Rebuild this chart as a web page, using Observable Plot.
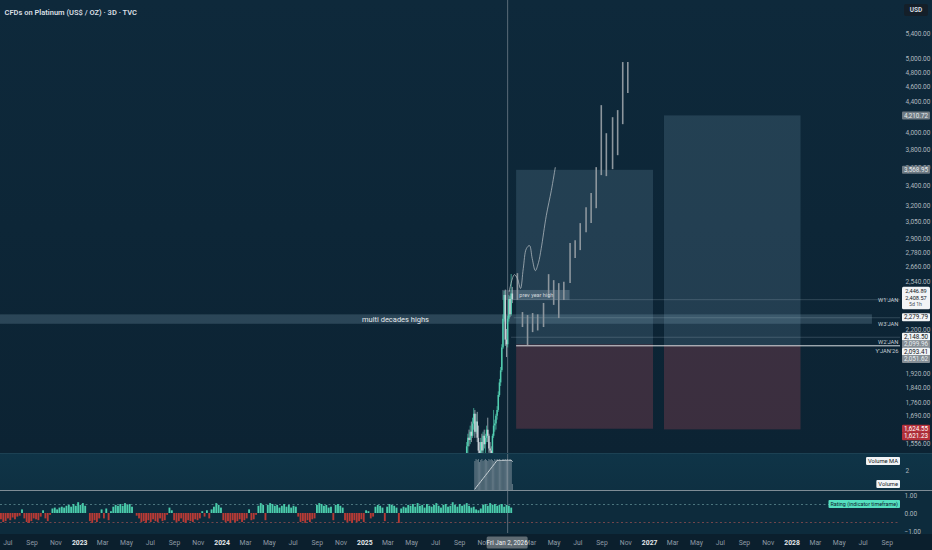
<!DOCTYPE html>
<html><head><meta charset="utf-8">
<script src="https://cdn.jsdelivr.net/npm/d3@7"></script>
<script src="https://cdn.jsdelivr.net/npm/@observablehq/plot@0.6"></script>
<style>
html,body{margin:0;padding:0;background:#0b1f2d;}
#wrap{position:relative;width:932px;height:550px;overflow:hidden;}
.pane{position:absolute;left:0;width:932px;}
#main{top:0;height:453px;background:linear-gradient(180deg,#0e293b 0%,#0c2333 100%);z-index:1;}
#vol{top:453px;height:37px;background:linear-gradient(180deg,#0f3447 0%,#0e3042 100%);border-top:1px solid #1c4153;box-sizing:border-box;z-index:2;}
#rat{top:490px;height:44px;background:#0d2b3c;border-top:1.5px solid #7f8d96;box-sizing:border-box;z-index:4;}
#xax{top:534px;height:16px;background:#0b1f2d;z-index:3;}
svg{overflow:visible;}
</style></head><body>
<div id="wrap"><div id="main" class="pane"></div><div id="vol" class="pane"></div><div id="rat" class="pane"></div><div id="xax" class="pane"></div></div>
<script>
// ---------- DATA ----------
const title = "CFDs on Platinum (US$ / OZ) · 3D · TVC";
const xDomain = ["2022-06-12", "2028-10-05"];
const priceDomain = [1509, 5980];
const priceTicks = [5400, 5000, 4800, 4600, 4400, 4000, 3800, 3600, 3400, 3200, 3050, 2900, 2780, 2660, 2540, 2200, 1920, 1840, 1760, 1690, 1556];
const crossDate = "2026-01-02";

// 3D candles
const candleStart = "2025-09-19";
const candleOpen  = [1480,1540,1580,1570,1610,1590,1650,1700,1610,1660,1580,1520,1490,1560,1520,1590,1550,1580,1620,1590,1530,1520,1500,1590,1640,1650,1690,1720,1800,1870,1940,2080,2270,2440,2130,2100,2270,2410,2300,2450];
const candleHigh  = [1560,1600,1620,1640,1660,1680,1730,1720,1700,1710,1640,1560,1580,1600,1610,1620,1600,1640,1680,1600,1560,1540,1600,1720,1670,1700,1740,1820,1890,1960,2100,2300,2470,2480,2200,2290,2440,2430,2600,2500];
const candleLow   = [1440,1500,1540,1550,1560,1580,1620,1580,1600,1560,1500,1450,1470,1480,1500,1530,1500,1560,1560,1510,1490,1470,1490,1580,1610,1620,1670,1710,1790,1850,1930,2070,2250,2090,2020,2080,2250,2280,2290,2380];
const candleClose = [1540,1580,1570,1610,1590,1650,1700,1610,1660,1580,1520,1490,1560,1520,1590,1550,1580,1620,1590,1530,1520,1500,1590,1640,1650,1690,1720,1800,1870,1940,2080,2270,2440,2130,2100,2270,2410,2300,2450,2409];
const volumes = [0,0,0,0,0,0,0,2.9,3.1,3.0,3.1,2.8,3.0,3.1,2.9,3.0,3.1,3.0,2.9,3.1,3.0,3.1,3.0,2.9,3.1,3.0,3.1,3.0,3.1,3.0,2.9,3.1,3.0,3.1,3.0,3.1,2.9,3.1,3.0,0.6];
const volumeMAPeriod = 20;

// projected bars (drawing)
const ghostDates = ["2026-01-27","2026-02-09","2026-02-22","2026-03-07","2026-03-20","2026-04-04","2026-04-17","2026-04-30","2026-05-13","2026-05-26","2026-06-11","2026-06-24","2026-07-07","2026-07-22","2026-08-04","2026-08-17","2026-08-30","2026-09-12","2026-09-28","2026-10-11","2026-10-24","2026-11-06"];
const ghostHigh = [2607,2316,2295,2309,2300,2381,2599,2552,2529,2540,2856,2882,3035,3186,3326,3598,4344,3989,4188,4279,4952,4952];
const ghostLow  = [2403,2213,2095,2179,2190,2213,2425,2367,2274,2403,2529,2729,2796,2952,3035,3176,3512,3501,3576,3731,4100,4506];

// hand-drawn path
const pathDates = ["2026-01-06","2026-01-19","2026-01-27","2026-02-04","2026-02-11","2026-02-19","2026-02-27","2026-03-06","2026-03-14","2026-03-22","2026-03-29","2026-04-11","2026-04-24","2026-05-04"];
const pathPrices = [2469,2599,2568,2492,2647,2813,2839,2729,2631,2696,2813,3109,3357,3598];

// long position tools
const posStart  = ["2026-01-25","2027-02-08"];
const posEnd    = ["2027-01-11","2028-01-24"];
const posTarget = [3568.95, 4210.72];
const posEntry  = [2099.96, 2093.41];
const posStop   = [1624.55, 1621.23];

// zones
const zoneNames  = ["multi decades highs","prev year high"];
const zoneStart  = ["2021-11-14","2025-12-20"];
const zoneEnd    = ["2028-07-25","2026-06-11"];
const zoneTop    = [2300, 2477];
const zoneBottom = [2235, 2403];

// period open levels
const levelNames  = ["W1'JAN","W3'JAN","W2'JAN","Y'JAN'26"];
const levelPrices = [2408.57, 2279.79, 2148.50, 2093.41];
const levelStart  = ["2026-01-05","2026-01-19","2026-01-12","2026-01-25"];

// price scale labels
const lastPrice = 2408.57, upperPrice = 2446.89, countdown = "5d 1h";
const labelPrices = [4210.72, 3568.95, 2279.79, 2148.50, 2099.96, 2093.41, 2051.62, 1624.55, 1621.23];
const labelRoles  = ["target","target","level","level","entry","level","entry","stop","stop"];

// technical rating (every 6 days from 2022-06-12)
const ratingStart = "2022-06-12";
const ratings = [
-0.35,-0.5,-0.45,-0.3,-0.4,-0.25,-0.35,-0.2,-0.15,
0.2,
-0.3,-0.5,-0.55,-0.45,-0.3,
-0.35,-0.4,-0.2,
0.15,
-0.3,-0.45,-0.1,
0.25,0.3,0.2,0.3,0.35,0.3,0.4,0.45,0.35,0.5,0.4,0.6,0.45,0.55,0.4,
0,
-0.45,-0.55,-0.4,-0.5,-0.3,
0.2,-0.3,0.25,-0.4,0.1,
0.35,0.45,0.4,0.5,0.4,0.55,0.45,0.5,0.35,
0,-0.15,
-0.3,-0.5,-0.45,-0.55,-0.4,-0.5,-0.35,-0.45,-0.5,-0.3,-0.45,-0.4,
-0.1,0.3,0.15,
-0.4,-0.5,-0.45,-0.3,-0.5,-0.55,-0.4,-0.45,-0.5,-0.35,-0.4,-0.3,
0.1,-0.2,0.15,-0.3,0.2,
0.35,0.55,0.45,0.3,
-0.4,-0.5,-0.45,-0.55,-0.4,-0.5,-0.45,-0.35,-0.5,-0.4,-0.3,
0.2,-0.4,-0.35,-0.1,
0.4,0.55,0.45,
-0.4,
0.45,0.55,0.5,0.4,0.45,0.3,0.4,0.5,0.35,0.45,
0.3,0.4,0.35,-0.2,
-0.5,-0.45,-0.55,-0.4,-0.5,-0.35,-0.3,
0.45,0.55,0.5,0.4,0.45,0.3,0.35,
-0.4,
0.45,0.5,0.4,0.3,
-0.4,-0.5,-0.45,-0.55,-0.4,-0.5,-0.45,-0.35,-0.5,0.15,0.1,-0.3,-0.2,
0.35,0.45,0.4,0.3,
-0.45,
0.35,0.5,0.45,0.4,0.3,
-0.55,
0.25,
0.35,0.3,0.45,0.4,0.5,0.35,0.55,0.4,0.45,0.3,0.5,0.4,0.35,0.45,0.55,0.4,0.3,0.45,0.5,0.35,0.4,0.6,0.45,0.35,0.5,0.4,0.45,0.55,0.4,0.3,0.35,0.2,0.15,0.25,0.45,0.5,0.4,0.55,0.45,0.5,0.4,0.45,0.5,0.35,0.45,0.4,0.3
];

const xMonthTicks = ["2022-07-01","2022-09-01","2022-11-01","2023-03-01","2023-05-01","2023-07-01","2023-09-01","2023-11-01","2024-03-01","2024-05-01","2024-07-01","2024-09-01","2024-11-01","2025-03-01","2025-05-01","2025-07-01","2025-09-01","2025-11-01","2026-03-01","2026-05-01","2026-07-01","2026-09-01","2026-11-01","2027-03-01","2027-05-01","2027-07-01","2027-09-01","2027-11-01","2028-03-01","2028-05-01","2028-07-01","2028-09-01"];
const xYearTicks = ["2023-01-01","2024-01-01","2025-01-01","2027-01-01","2028-01-01"];

// ---------- BUILD ----------
const FONT = "Roboto, 'Noto Sans', sans-serif";
const D = s => new Date(s + "T00:00:00Z");
const addDays = (d, n) => new Date(d.getTime() + n * 864e5);
const X = xDomain.map(D);
const cross = D(crossDate);
const UP = "#52cdb0", DOWN = "#c6cfd5", TEAL = "#4accab", RED = "#b73a35";

const c0 = D(candleStart);
const candles = candleOpen.map((o, i) => ({date: addDays(c0, i * 3), o, h: candleHigh[i], l: candleLow[i], c: candleClose[i], v: volumes[i]}));
const volBars = candles.filter(d => d.v > 0);
const volMA = candles.map((d, i) => {
  let s = 0; for (let k = Math.max(0, i - volumeMAPeriod + 1); k <= i; k++) s += candles[k].v;
  return {date: d.date, ma: s / volumeMAPeriod, v: d.v};
}).filter(d => d.v > 0);
const ghosts = ghostDates.map((d, i) => ({date: D(d), high: ghostHigh[i], low: ghostLow[i]}));
const path = pathDates.map((d, i) => ({date: D(d), price: pathPrices[i]}));
const positions = posStart.map((s, i) => ({start: D(s), end: D(posEnd[i]), target: posTarget[i], entry: posEntry[i], stop: posStop[i]}));
const zones = zoneNames.map((n, i) => ({name: n, start: D(zoneStart[i]), end: D(zoneEnd[i]), top: zoneTop[i], bottom: zoneBottom[i]}));
const levels = levelNames.map((n, i) => ({name: n, price: levelPrices[i], start: D(levelStart[i])}));
const r0 = D(ratingStart);
const ratingRows = ratings.map((v, i) => ({d1: addDays(r0, i * 6), d2: addDays(r0, i * 6 + 4.8), v}));

const baseStyle = {background: "transparent", color: "#aab4bb", fontFamily: FONT, fontSize: "6.5px", overflow: "visible"};
const common = {width: 932, marginLeft: 0, marginRight: 32, marginTop: 0, marginBottom: 0, style: baseStyle};
const xOpt = {type: "utc", domain: X, axis: null};
const levelDy = [0, 6, 4.5, 5.5];

function boxLabel(g, text, xRight, y, bg, fg, size) {
  const t = g.append("text").attr("x", xRight - 2).attr("y", y).attr("dy", "0.35em")
    .attr("text-anchor", "end").attr("font-size", size).attr("fill", fg).text(text);
  const w = t.node().getComputedTextLength() + 4;
  g.insert("rect", () => t.node()).attr("x", xRight - w).attr("y", y - 4).attr("width", w).attr("height", 8).attr("rx", 1).attr("fill", bg);
}

const main = Plot.plot({
  ...common, height: 453,
  x: xOpt,
  y: {type: "log", domain: priceDomain, label: null},
  marks: [
    Plot.rect(zones.slice(0,1), {x1: "start", x2: "end", y1: "bottom", y2: "top", fill: "#8fb0c4", fillOpacity: 0.24, clip: true}),
    Plot.rect(zones.slice(1), {x1: "start", x2: "end", y1: "bottom", y2: "top", fill: "#9fb2c0", fillOpacity: 0.3, clip: true}),
    Plot.rect(positions, {x1: "start", x2: "end", y1: "entry", y2: "target", fill: "#7fa7bf", fillOpacity: 0.2}),
    Plot.rect(positions, {x1: "start", x2: "end", y1: "stop", y2: "entry", fill: "#9e4858", fillOpacity: 0.32}),
    Plot.ruleY(levels.slice(0, 3), {y: "price", x1: "start", x2: () => X[1], stroke: "#a9bcc8", strokeOpacity: 0.3, strokeWidth: 0.8}),
    Plot.ruleY(levels.slice(3), {y: "price", x1: "start", x2: () => X[1], stroke: "#eef2f4", strokeOpacity: 0.9, strokeWidth: 1}),
    Plot.ruleX([cross], {stroke: "#6e7e89", strokeWidth: 0.8}),
    Plot.ruleX(candles.filter(d => d.c >= d.o), {x: "date", y1: "l", y2: "h", stroke: UP, strokeWidth: 0.7, clip: true}),
    Plot.ruleX(candles.filter(d => d.c < d.o), {x: "date", y1: "l", y2: "h", stroke: DOWN, strokeWidth: 0.7, clip: true}),
    Plot.ruleX(candles.filter(d => d.c >= d.o), {x: "date", y1: "o", y2: "c", stroke: UP, strokeWidth: 1.5, clip: true}),
    Plot.ruleX(candles.filter(d => d.c < d.o), {x: "date", y1: "o", y2: "c", stroke: DOWN, strokeWidth: 1.5, clip: true}),
    Plot.ruleX(ghosts, {x: "date", y1: "low", y2: "high", stroke: "#8d969d", strokeWidth: 1.6}),
    Plot.line(path, {x: "date", y: "price", curve: "catmull-rom", stroke: "#b4bcc2", strokeWidth: 0.75}),
    Plot.text(zones.slice(0,1), {x: d => new Date((+d.start + +d.end) / 2), y: d => Math.sqrt(d.top * d.bottom), text: "name", fill: "#e4e9ec", fontSize: 7.5}),
    Plot.text(zones.slice(1), {x: d => new Date((+d.start + +d.end) / 2), y: d => Math.sqrt(d.top * d.bottom), text: "name", fill: "#d0d7dc", fontSize: 5.5}),
    ...levels.map((l, i) => Plot.text([l], {y: "price", text: "name", frameAnchor: "right", textAnchor: "end", dx: -2, dy: levelDy[i], fill: "#c4ccd2", fontSize: 5.8})),
    Plot.text([title], {frameAnchor: "top-left", dx: 4, dy: 9, textAnchor: "start", fill: "#d9dee2", fontSize: 7.5, fontWeight: 600}),
    Plot.axisY({anchor: "right", label: null, ticks: priceTicks, tickFormat: d3.format(",.2f"), tickSize: 0, tickPadding: 5, fontSize: 6.5, fill: "#aeb7be"})
  ]
});
document.getElementById("main").appendChild(main);

// price scale labels
{
  const ys = main.scale("y");
  const g = d3.select(main).append("g").attr("font-family", FONT).attr("font-size", 6.3).attr("text-anchor", "middle");
  const style = {target: ["#6e7a83", "#e6ebee"], entry: ["#858e95", "#e6ebee"], level: ["#f1f4f6", "#131722"], stop: ["#b3303a", "#ffffff"]};
  const fmt = d3.format(",.2f");
  g.append("rect").attr("x", 904).attr("y", 4).attr("width", 24).attr("height", 12).attr("rx", 2).attr("fill", "#141f29");
  g.append("text").attr("x", 916).attr("y", 10).attr("dy", "0.35em").attr("fill", "#d7dde2").attr("font-weight", 700).attr("font-size", 6.5).text("USD");
  const cy = ys.apply(lastPrice);
  g.append("rect").attr("x", 902).attr("y", cy - 12.5).attr("width", 28).attr("height", 22.5).attr("rx", 1.5).attr("fill", "#f2f4f6");
  g.append("text").attr("x", 916).attr("y", cy - 8.3).attr("dy", "0.35em").attr("font-size", 5.6).attr("fill", "#131722").text(fmt(upperPrice));
  g.append("text").attr("x", 916).attr("y", cy - 1.6).attr("dy", "0.35em").attr("font-size", 5.6).attr("fill", "#131722").text(fmt(lastPrice));
  g.append("text").attr("x", 909).attr("y", cy + 5.2).attr("dy", "0.35em").attr("text-anchor", "start").attr("fill", "#4a5058").attr("font-size", 5.2).text(countdown);
  const items = labelPrices.map((p, i) => ({p, role: labelRoles[i], y: ys.apply(p)})).sort((a, b) => a.y - b.y);
  let prev = -Infinity;
  for (const it of items) {
    it.y = Math.max(it.y, prev + 7.4); prev = it.y;
    const [bg, fg] = style[it.role];
    g.append("rect").attr("x", 902).attr("y", it.y - 4).attr("width", 28).attr("height", 8).attr("rx", 1).attr("fill", bg);
    g.append("text").attr("x", 916).attr("y", it.y).attr("dy", "0.35em").attr("fill", fg).text(fmt(it.p));
  }
}

// volume pane
const vol = Plot.plot({
  ...common, height: 36,
  x: xOpt,
  y: {domain: [0, 3.6], label: null},
  marks: [
    Plot.ruleX([cross], {stroke: "#6e7e89", strokeWidth: 0.8}),
    Plot.ruleX(volBars, {x: "date", y1: 0, y2: "v", stroke: "#97a4ad", strokeOpacity: 0.7, strokeWidth: 0.9}),
    Plot.line(volMA, {x: "date", y: "ma", stroke: "#d6dce0", strokeWidth: 0.9}),
    Plot.axisY({anchor: "right", label: null, ticks: [2], tickFormat: d => d, tickSize: 0, tickPadding: 5, fontSize: 6.5, fill: "#aeb7be"})
  ]
});
document.getElementById("vol").appendChild(vol);
{
  const ys = vol.scale("y");
  const g = d3.select(vol).append("g").attr("font-family", FONT);
  const lastMA = volMA[volMA.length - 1].ma, lastV = volMA[volMA.length - 1].v;
  boxLabel(g, "Volume MA", 900, ys.apply(lastMA), "#f1f4f6", "#131722", 5.8);
  boxLabel(g, "Volume", 900, ys.apply(lastV), "#f1f4f6", "#131722", 5.8);
}

// rating pane
const rat = Plot.plot({
  ...common, height: 42,
  x: xOpt,
  y: {domain: [-1.111, 1.222], label: null},
  marks: [
    Plot.ruleY([0.5], {stroke: "#5d8a90", strokeDasharray: "2,2.5", strokeWidth: 0.8}),
    Plot.ruleY([-0.5], {stroke: "#8c4c4f", strokeDasharray: "2,2.5", strokeWidth: 0.8}),
    Plot.ruleX([cross], {stroke: "#6e7e89", strokeWidth: 0.8}),
    Plot.rectY(ratingRows.filter(d => d.v >= 0), {x1: "d1", x2: "d2", y1: 0, y2: "v", fill: TEAL}),
    Plot.rectY(ratingRows.filter(d => d.v < 0), {x1: "d1", x2: "d2", y1: 0, y2: "v", fill: RED}),
    Plot.axisY({anchor: "right", label: null, ticks: [1, 0, -1], tickFormat: d3.format(".2f"), tickSize: 0, tickPadding: 4, fontSize: 6.5, fill: "#aeb7be"})
  ]
});
document.getElementById("rat").appendChild(rat);
{
  const ys = rat.scale("y");
  const g = d3.select(rat).append("g").attr("font-family", FONT);
  boxLabel(g, "Rating (indicator timeframe)", 900, ys.apply(0.5), "#55dfbf", "#0d2230", 5.4);
}

// time axis
const xax = Plot.plot({
  ...common, height: 16, marginBottom: 16,
  x: {type: "utc", domain: X, label: null},
  marks: [
    Plot.axisX({anchor: "bottom", label: null, ticks: xMonthTicks.map(D), tickFormat: d3.utcFormat("%b"), tickSize: 0, tickPadding: 6, fontSize: 6.8, fill: "#8f9ba5"}),
    Plot.axisX({anchor: "bottom", label: null, ticks: xYearTicks.map(D), tickFormat: d3.utcFormat("%Y"), tickSize: 0, tickPadding: 6, fontSize: 6.8, fontWeight: 700, fill: "#e4e8eb"})
  ]
});
document.getElementById("xax").appendChild(xax);
{
  const xs = xax.scale("x");
  const cx = xs.apply(cross);
  const g = d3.select(xax).append("g").attr("font-family", FONT).attr("font-size", 6.3).attr("text-anchor", "middle");
  g.append("rect").attr("x", cx - 20.5).attr("y", 2.5).attr("width", 41).attr("height", 12).attr("rx", 1.5).attr("fill", "#5f6b73");
  g.append("text").attr("x", cx).attr("y", 8.5).attr("dy", "0.35em").attr("fill", "#f0f3f5").text(d3.utcFormat("%a %b %-d, %Y")(cross));
}
</script>
</body></html>
